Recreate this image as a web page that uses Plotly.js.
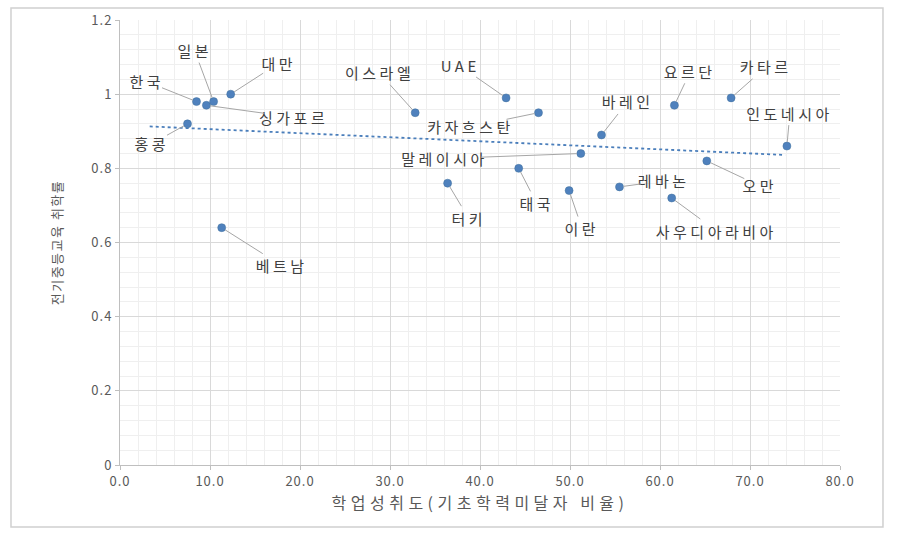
<!DOCTYPE html>
<html>
<head>
<meta charset="utf-8">
<script src="https://cdn.plot.ly/plotly-3.0.1.min.js"></script>
<style>
html,body{margin:0;padding:0;background:#fff;}
#chart{width:905px;height:541px;}
#chart .annotation-text{letter-spacing:3.5px;}
#chart .xtitle{letter-spacing:4.5px;}
#chart .ytitle{letter-spacing:1.5px;}
#chart .xtick text,#chart .ytick text{letter-spacing:1px;}
</style>
</head>
<body>
<div id="chart"></div>
<script>
const countries = ["한국","싱가포르","일본","대만","홍콩","베트남","이스라엘","UAE","카자흐스탄","바레인","말레이시아","태국","터키","이란","레바논","요르단","카타르","인도네시아","오만","사우디아라비아"];
const achievement = [8.5, 9.6, 10.4, 12.3, 7.5, 11.3, 32.8, 42.9, 46.5, 53.5, 51.2, 44.3, 36.4, 49.9, 55.5, 61.6, 67.9, 74.1, 65.2, 61.3];
const enrollment = [0.98, 0.97, 0.98, 1.00, 0.92, 0.64, 0.95, 0.99, 0.95, 0.89, 0.84, 0.80, 0.76, 0.74, 0.75, 0.97, 0.99, 0.86, 0.82, 0.72];
const trendX = [3.3, 73.9];
const trendY = [0.913, 0.836];
const xTickVals = [0,10,20,30,40,50,60,70,80];
const xTickText = ["0.0","10.0","20.0","30.0","40.0","50.0","60.0","70.0","80.0"];
const yTickVals = [0,0.2,0.4,0.6,0.8,1,1.2];
const yTickText = ["0","0.2","0.4","0.6","0.8","1","1.2"];

// label offsets in pixels (layout only)
const labelOffsets = [[-50,-20],[87,12],[-19,-51],[48,-31],[-36,20],[60,38],[-36,-40],[-46,-32],[-68,14],[26,-33],[-136,5],[18,35],[21,35],[13,38],[44,-6],[16,-34],[35,-31],[3,-33],[53,25],[45,33]];

const FONT = '"Noto Sans CJK KR", "Noto Sans", sans-serif';

const traces = [
  {
    x: trendX, y: trendY, mode: 'lines', type: 'scatter',
    line: {color: '#4a7ebb', width: 1.8, dash: 'dot'}, hoverinfo: 'skip', showlegend: false
  },
  {
    x: achievement, y: enrollment, mode: 'markers', type: 'scatter', text: countries,
    marker: {color: '#4f81bd', size: 8, line: {color: '#41719c', width: 0.5}}, showlegend: false
  }
];

const annotations = countries.map((c, i) => ({
  x: achievement[i], y: enrollment[i], xref: 'x', yref: 'y',
  text: c, showarrow: true, arrowhead: 0, arrowwidth: 1, arrowcolor: '#a6a6a6',
  ax: labelOffsets[i][0], ay: labelOffsets[i][1], standoff: 4,
  font: {family: FONT, size: 15, color: '#404040'}
}));

const layout = {
  width: 905, height: 541,
  margin: {l: 120, r: 65, t: 20, b: 76},
  paper_bgcolor: '#ffffff', plot_bgcolor: '#ffffff',
  font: {family: FONT, color: '#595959', size: 12},
  xaxis: {
    range: [0, 80], tickvals: xTickVals, ticktext: xTickText,
    showgrid: true, gridcolor: '#d9d9d9', gridwidth: 1,
    minor: {dtick: 2, showgrid: true, gridcolor: '#efefef', gridwidth: 1},
    showline: true, linecolor: '#bfbfbf', linewidth: 1,
    ticks: 'outside', ticklen: 4, tickcolor: '#bfbfbf',
    zeroline: false, fixedrange: true,
    tickfont: {family: FONT, size: 13, color: '#595959'},
    title: {text: '학업성취도(기초학력미달자 비율)', font: {family: FONT, size: 16, color: '#595959'}, standoff: 9}
  },
  yaxis: {
    range: [0, 1.2], tickvals: yTickVals, ticktext: yTickText,
    showgrid: true, gridcolor: '#d9d9d9', gridwidth: 1,
    minor: {dtick: 0.04, showgrid: true, gridcolor: '#efefef', gridwidth: 1},
    showline: true, linecolor: '#bfbfbf', linewidth: 1,
    ticks: 'outside', ticklen: 4, tickcolor: '#bfbfbf',
    zeroline: false, fixedrange: true,
    tickfont: {family: FONT, size: 13, color: '#595959'},
    title: {text: '전기중등교육 취학률', font: {family: FONT, size: 13, color: '#595959'}, standoff: 28}
  },
  annotations: annotations,
  shapes: [
    {type: 'rect', xref: 'paper', yref: 'paper', x0: -0.1514, x1: 1.0597, y0: -0.1393, y1: 1.027,
     line: {color: '#d0d0d0', width: 1.5}, fillcolor: 'rgba(0,0,0,0)', layer: 'below'}
  ],
  showlegend: false
};

Plotly.newPlot('chart', traces, layout, {displayModeBar: false, staticPlot: true});
</script>
</body>
</html>
